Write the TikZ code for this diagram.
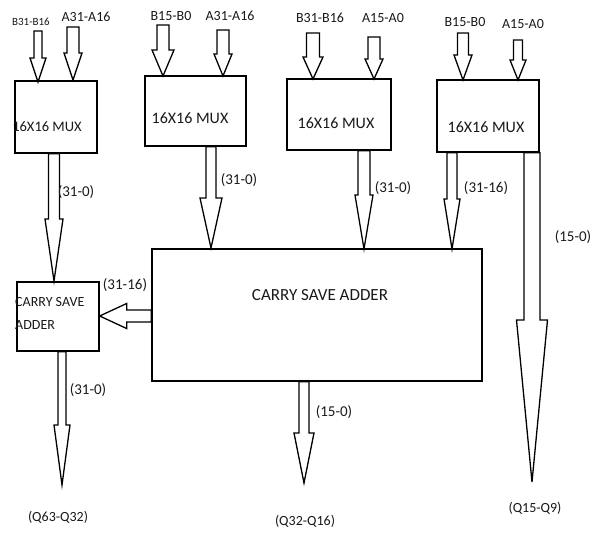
\documentclass[tikz,border=0pt]{standalone}
\usepackage{fontspec}
\setmainfont{Carlito}
\usetikzlibrary{calc}
\tikzset{
  box/.style={draw, line width=1.3pt, inner sep=0pt},
  lbl/.style={inner sep=0pt, font=\fontsize{14}{16}\selectfont, text=black!90},
  bus/.style={inner sep=0pt, font=\fontsize{15}{17}\selectfont, text=black!90},
  boxtxt/.style={inner sep=0pt, font=\fontsize{16}{18}\selectfont, text=black!90},
  arr/.style={draw, line width=1.3pt, line join=miter, fill=white}
}
% vertical block arrow: start coord, tip coord, shaft half width, head half width, head length
\newcommand{\varrow}[5]{%
  \path[arr] let \p1=(#1), \p2=(#2) in
   (\x2-#3pt,\y1) -- (\x2-#3pt,\y2+#5pt) -- (\x2-#4pt,\y2+#5pt) -- (\x2,\y2)
   -- (\x2+#4pt,\y2+#5pt) -- (\x2+#3pt,\y2+#5pt) -- (\x2+#3pt,\y1) -- cycle;}
% leftward horizontal block arrow
\newcommand{\harrow}[5]{%
  \path[arr] let \p1=(#1), \p2=(#2) in
   (\x1,\y2+#3pt) -- (\x2+#5pt,\y2+#3pt) -- (\x2+#5pt,\y2+#4pt) -- (\x2,\y2)
   -- (\x2+#5pt,\y2-#4pt) -- (\x2+#5pt,\y2-#3pt) -- (\x1,\y2-#3pt) -- cycle;}
\begin{document}
\begin{tikzpicture}[x=1pt,y=-1pt]
\useasboundingbox (0,0) rectangle (597,539);
% boxes
\node[box, minimum width=82pt, minimum height=72pt] (mux1) at (56,117) {};
\node[box, minimum width=101pt, minimum height=70pt] (mux2) at (195.5,111) {};
\node[box, minimum width=104pt, minimum height=71pt] (mux3) at (339,114.5) {};
\node[box, minimum width=102pt, minimum height=72pt] (mux4) at (488,116) {};
\node[box, minimum width=330pt, minimum height=132pt] (csa) at (317,315) {};
\node[box, minimum width=82pt, minimum height=69pt] (csa1) at (58,316.5) {};
% box texts
\node[boxtxt, font=\fontsize{14.5}{16}\selectfont] (t1) at (47,127) {16X16 MUX};
\node[boxtxt] (t2) at (190,118) {16X16 MUX};
\node[boxtxt] (t3) at (336,123) {16X16 MUX};
\node[boxtxt] (t4) at (486,127) {16X16 MUX};
\node[boxtxt, font=\fontsize{17}{19}\selectfont] (tc) at (320,295) {CARRY SAVE ADDER};
\node[lbl, anchor=west, align=left, font=\fontsize{14}{23}\selectfont] (tc1) at (15,313.5) {CARRY SAVE\\ADDER};
% input labels
\node[lbl, font=\fontsize{11}{13}\selectfont] (i1) at (31,22) {B31-B16};
\node[lbl] (i2) at (86,17) {A31-A16};
\node[lbl] (i3) at (171,16) {B15-B0};
\node[lbl] (i4) at (230,16) {A31-A16};
\node[lbl] (i5) at (320,18) {B31-B16};
\node[lbl] (i6) at (383,18) {A15-A0};
\node[lbl] (i7) at (465,22) {B15-B0};
\node[lbl] (i8) at (523,24) {A15-A0};
% input arrow coordinates
\coordinate (a1s) at (38,31);  \coordinate (a1t) at (38,82);
\coordinate (a2s) at (73,27);  \coordinate (a2t) at (73,80);
\coordinate (a3s) at (163,25); \coordinate (a3t) at (163,76);
\coordinate (a4s) at (223,30); \coordinate (a4t) at (223,76);
\coordinate (a5s) at (313,33); \coordinate (a5t) at (313,79);
\coordinate (a6s) at (374,37); \coordinate (a6t) at (374,79);
\coordinate (a7s) at (463,33); \coordinate (a7t) at (463,80);
\coordinate (a8s) at (518,40); \coordinate (a8t) at (518,80);
\varrow{a1s}{a1t}{4}{8}{24}
\varrow{a2s}{a2t}{6}{9}{27}
\varrow{a3s}{a3t}{6}{11}{26}
\varrow{a4s}{a4t}{6}{9}{22}
\varrow{a5s}{a5t}{6.5}{10}{22}
\varrow{a6s}{a6t}{6}{9}{20}
\varrow{a7s}{a7t}{5.5}{9}{25}
\varrow{a8s}{a8t}{4.5}{8}{20}
% output arrows
\coordinate (q1) at (62,485);
\coordinate (q2) at (304,483);
\coordinate (q3) at (532,482);
\varrow{mux1.south -| 54,0}{54,281}{5.5}{9}{62}
\varrow{mux2.south -| 211,0}{211,248}{5}{11}{50}
\varrow{mux3.south -| 364,0}{364,249}{6}{9}{54}
\varrow{mux4.south -| 452,0}{452,249}{5}{8}{50}
\varrow{mux4.south -| 531,0}{q3}{8}{15.5}{162}
\harrow{csa.west |- 0,316}{csa1.east |- 0,316}{6}{12.5}{27}
\varrow{csa1.south -| 62,0}{q1}{4}{8}{60}
\varrow{csa.south -| 303,0}{q2}{5}{10}{50}
% bus labels
\node[bus] (b1) at (76,192) {(31-0)};
\node[bus] (b2) at (239,180) {(31-0)};
\node[bus] (b3) at (393,188) {(31-0)};
\node[bus] (b4) at (486,188) {(31-16)};
\node[bus] (b5) at (573,237) {(15-0)};
\node[bus] (b6) at (125,285) {(31-16)};
\node[bus] (b7) at (88,390) {(31-0)};
\node[bus] (b8) at (334,412) {(15-0)};
% output labels
\node[lbl] (o1) at (58,517) {(Q63-Q32)};
\node[lbl] (o2) at (305,521) {(Q32-Q16)};
\node[lbl] (o3) at (535,508) {(Q15-Q9)};
\end{tikzpicture}
\end{document}
